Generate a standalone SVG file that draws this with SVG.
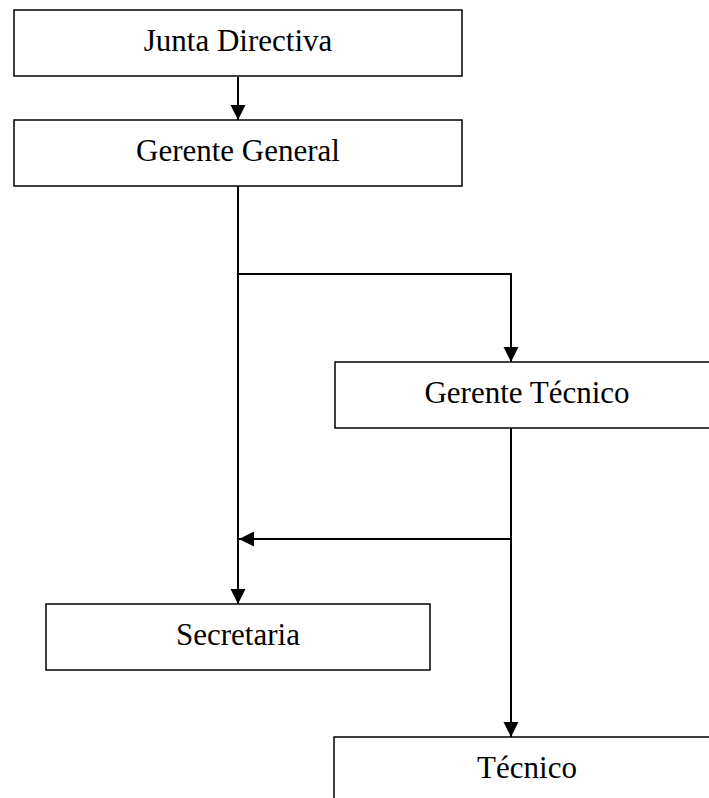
<svg xmlns="http://www.w3.org/2000/svg" width="709" height="798" viewBox="0 0 709 798">
<style>
.box{fill:#fff;stroke:#000;stroke-width:1.5}
.lbl{font-family:"Liberation Serif","Times New Roman",serif;font-size:31px;fill:#000;text-anchor:middle}
.con{fill:none;stroke:#000;stroke-width:2}
</style>
<defs>
<marker id="ah" markerUnits="userSpaceOnUse" markerWidth="16" markerHeight="16" refX="15" refY="7.5" orient="auto">
<path d="M0,0 L15,7.5 L0,15 z" fill="#000"/>
</marker>
</defs>
<rect width="709" height="798" fill="#fff"/>
<g id="junta-directiva"><rect class="box" x="14" y="10" width="448" height="66"/><text class="lbl" x="238" y="51">Junta Directiva</text></g>
<g id="gerente-general"><rect class="box" x="14" y="120" width="448" height="66"/><text class="lbl" x="238" y="161">Gerente General</text></g>
<g id="gerente-tecnico"><rect class="box" x="335" y="362" width="384" height="66"/><text class="lbl" x="527" y="403">Gerente Técnico</text></g>
<g id="secretaria"><rect class="box" x="46" y="604" width="384" height="66"/><text class="lbl" x="238" y="645">Secretaria</text></g>
<g id="tecnico"><rect class="box" x="334" y="737" width="384" height="66"/><text class="lbl" x="527" y="778">Técnico</text></g>
<g id="connectors">
<path class="con" d="M238,77 V120" marker-end="url(#ah)"/>
<path class="con" d="M238,186 V604" marker-end="url(#ah)"/>
<path class="con" d="M238,274 H511 V362" marker-end="url(#ah)"/>
<path class="con" d="M511,428 V737" marker-end="url(#ah)"/>
<path class="con" d="M511,539 H239" marker-end="url(#ah)"/>
</g>
</svg>
